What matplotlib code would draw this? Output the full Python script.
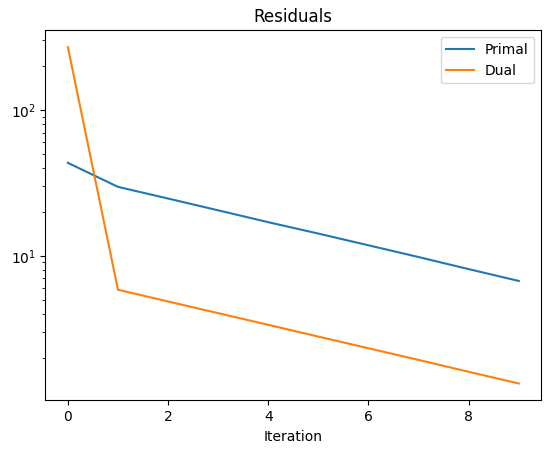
import matplotlib
matplotlib.use("Agg")
import matplotlib.pyplot as plt

iterations = [0, 1, 2, 3, 4, 5, 6, 7, 8, 9]
primal = [43.4, 29.7, 24.7, 20.5, 17.0, 14.2, 11.8, 9.8, 8.1, 6.72]
dual = [270.0, 5.85, 4.86, 4.04, 3.36, 2.79, 2.32, 1.93, 1.60, 1.33]

fig, ax = plt.subplots(figsize=(5.5, 4.53), dpi=100)
fig.subplots_adjust(left=0.0824, right=0.9842, top=0.9331, bottom=0.1163)
ax.plot(iterations, primal, label="Primal")
ax.plot(iterations, dual, label="Dual")
ax.set_yscale("log")
ax.set_title("Residuals")
ax.set_xlabel("Iteration")
ax.legend()
fig.savefig("out.png")
